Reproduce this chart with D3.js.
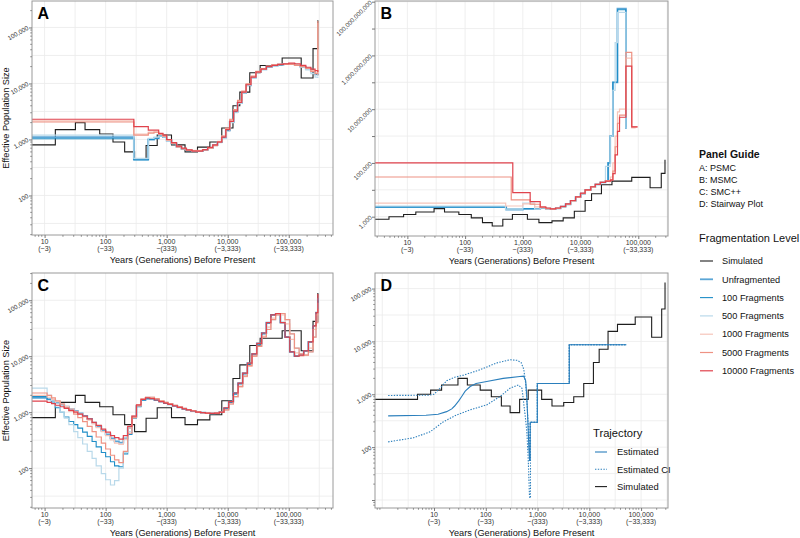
<!DOCTYPE html>
<html>
<head>
<meta charset="utf-8">
<script src="https://cdn.jsdelivr.net/npm/d3@7"></script>
<style>
body { margin: 0; background: #fff; }
svg { font-family: "Liberation Sans", Arial, Helvetica, sans-serif; }
</style>
</head>
<body>
<svg id="chart" width="800" height="538"></svg>
<script>
"use strict";

// ---- tick labels ----
var xTickValues = [10, 100, 1000, 10000, 100000];
var xTickYears = ["10", "100", "1,000", "10,000", "100,000"];
var xTickGens = ["(~3)", "(~33)", "~(333)", "(~3,333)", "(~33,333)"];

var seriesNames = ["Simulated", "Unfragmented", "100 Fragments", "500 Fragments",
                   "1000 Fragments", "5000 Fragments", "10000 Fragments"];
var panelGuide = ["A: PSMC", "B: MSMC", "C: SMC++", "D: Stairway Plot"];
var trajectoryNames = ["Estimated", "Estimated CI", "Simulated"];

// ---- simulated history, [years, Ne] steps ----
var simAC = [[6, 800], [15, 1500], [32, 2000], [46, 1500], [80, 1250], [132, 900], [205, 600],
    [298, 450], [460, 780], [700, 1200], [1200, 800], [2000, 600], [3200, 730], [5100, 900],
    [8000, 1600], [12200, 4000], [15800, 7000], [23000, 15500], [34000, 21000], [78000, 28500],
    [160000, 12500], [250000, 42000], [300000, 42000], [300000, 135000]];
var simBD = [[0.72, 800], [4.8, 1000], [8.6, 1200], [14, 1500], [29, 2000], [44, 1500], [78, 1200],
    [128, 900], [200, 600], [295, 450], [450, 800], [660, 1200], [1200, 800], [1900, 600],
    [3200, 700], [5000, 900], [7800, 1600], [12000, 4000], [15500, 7100], [23000, 15500],
    [35000, 21000], [77000, 29000], [160000, 12000], [250000, 41000], [290000, 41000], [290000, 130000]];

// ---- A: PSMC, shared interval starts ----
var yearsA = [6, 290, 420, 500, 620, 740, 870, 1000, 1200, 1450,
    1750, 2100, 2600, 3200, 3900, 4700, 5700, 6800, 8000, 9300,
    10800, 12500, 14500, 17000, 20000, 24000, 29000, 35000, 43000, 53000,
    66000, 82000, 100000, 125000, 155000, 190000, 230000, 270000, 300000, 300000];
var psmcUnfrag = [1100, 440, 440, 1000, 1050, 1150, 1100, 960, 850, 740,
    680, 640, 620, 620, 650, 700, 790, 900, 1080, 1450,
    2050, 3100, 4500, 6800, 9300, 12800, 15900, 17900, 19900, 20900,
    21700, 22200, 22300, 21500, 20000, 18500, 16500, 14500, 14000, 14000];
var psmc100 = [1030, 430, 430, 1000, 1050, 1150, 1100, 960, 850, 740,
    680, 640, 620, 620, 650, 700, 790, 900, 1080, 1450,
    2050, 3100, 4500, 6800, 9300, 12800, 15900, 17900, 19900, 20900,
    21700, 22200, 22300, 21500, 20000, 18500, 16500, 14500, 14000, 14000];
var psmc500 = [1200, 460, 460, 1050, 1100, 1150, 1100, 950, 840, 740,
    680, 640, 620, 620, 650, 700, 780, 880, 1050, 1400,
    2000, 3000, 4400, 6700, 9200, 12600, 15800, 17800, 19800, 20800,
    21500, 22000, 22000, 21000, 19500, 17500, 15000, 13000, 12500, 12500];
var psmc1000 = [2150, 1250, 1250, 1350, 1350, 1250, 1150, 960, 850, 740,
    690, 650, 640, 640, 660, 710, 790, 930, 1150, 1550,
    2200, 3300, 4800, 7100, 9600, 13200, 16200, 18200, 20200, 21200,
    22000, 22300, 22300, 21500, 20500, 19000, 17000, 15500, 14000, 120000];
var psmc5000 = [2050, 1200, 1200, 1300, 1350, 1250, 1150, 980, 860, 740,
    680, 640, 630, 630, 650, 700, 780, 920, 1150, 1600,
    2300, 3400, 5000, 7300, 9800, 13500, 16500, 18500, 20500, 21500,
    22000, 22000, 22000, 21000, 20000, 18500, 16500, 15000, 15000, 130000];
var psmc10000 = [2300, 1700, 1700, 1470, 1470, 1290, 1200, 1000, 880, 760,
    700, 650, 620, 620, 660, 720, 800, 900, 1100, 1500,
    2100, 3200, 4600, 7000, 9500, 13000, 16000, 18000, 20000, 21000,
    22000, 22500, 23000, 22500, 21000, 19500, 18000, 17000, 16000, 16000];

// ---- B: MSMC, [years, Ne] steps ----
var msmcUnfrag = [[2.75, 2250], [515, 1850], [1000, 1950], [1600, 1950], [2000, 2100], [2500, 2000],
    [3000, 1950], [3700, 2050], [4500, 2350], [5500, 2900], [6700, 3900], [8200, 5300], [10000, 7200],
    [12000, 9700], [15000, 12700], [18000, 15800], [22000, 18800], [27000, 21000], [30000, 100000],
    [32600, 1000000], [36300, 100000000], [43600, 55000000000], [61000, 2000000], [63000, 2000000]];
var msmc100 = [[2.75, 2300], [515, 1900], [1000, 2000], [1600, 1950], [2000, 2100], [2500, 2000],
    [3000, 1950], [3700, 2050], [4500, 2350], [5500, 2900], [6700, 3900], [8200, 5300], [10000, 7200],
    [12000, 9700], [15000, 12700], [18000, 15800], [22000, 18800], [27000, 21000], [30000, 100000],
    [32600, 1000000], [36300, 100000000], [43600, 50000000000], [61000, 2000000], [63000, 2000000]];
var msmc500 = [[2.75, 2500], [500, 1900], [1000, 3200], [1600, 1900], [2000, 2100], [2500, 2000],
    [3000, 1950], [3700, 2050], [4500, 2350], [5500, 2900], [6700, 3800], [8200, 5200], [10000, 7000],
    [12000, 9500], [15000, 12500], [18000, 15500], [22000, 19000], [27000, 75000], [32600, 1000000],
    [36300, 50000000], [39700, 3000000000], [43600, 40000000000], [61000, 2000000], [63000, 2000000]];
var msmc1000 = [[2.75, 3200], [505, 2500], [1000, 3000], [1600, 2300], [2000, 2150], [2500, 2000],
    [3000, 1950], [3700, 2050], [4500, 2350], [5500, 2900], [6700, 3900], [8200, 5300], [10000, 7200],
    [12000, 9700], [15000, 12700], [18000, 15800], [22000, 18800], [27000, 22000], [33000, 30000],
    [36300, 100000], [39700, 1000000], [43600, 8000000], [47300, 10000000], [61000, 800000000],
    [77000, 2000000], [90000, 2000000]];
var msmc5000 = [[2.75, 30000], [630, 4200], [1340, 2900], [2000, 2200], [2500, 2000], [3000, 1950],
    [3700, 2050], [4500, 2350], [5500, 2900], [6700, 3900], [8200, 5400], [10000, 7300], [12000, 9800],
    [15000, 12800], [18000, 15800], [22000, 18800], [27000, 21000], [33000, 24000], [36300, 50000],
    [39700, 400000], [43600, 3000000], [47300, 6000000], [61000, 1300000000], [77000, 2200000],
    [97000, 2200000]];
var msmc10000 = [[2.75, 100000], [670, 7900], [1340, 3650], [2000, 2300], [2500, 2100], [3000, 1950],
    [3700, 2100], [4500, 2400], [5500, 3000], [6700, 4000], [8200, 5500], [10000, 7500], [12000, 10000],
    [15000, 13000], [18000, 16000], [22000, 19000], [27000, 21000], [33000, 23000], [36300, 40000],
    [39700, 200000], [43600, 1500000], [47300, 5000000], [61000, 400000000], [77000, 2200000],
    [97000, 2200000]];

// ---- C: SMC++, shared interval starts ----
var yearsC = [6, 11, 13, 15, 18, 21, 25, 30, 35, 42,
    50, 60, 70, 85, 100, 120, 140, 165, 195, 230,
    270, 320, 380, 450, 530, 630, 750, 900, 1050, 1250,
    1500, 1800, 2100, 2500, 3000, 3600, 4300, 5100, 6100, 7300,
    8700, 10400, 12400, 14800, 17600, 21000, 25000, 30000, 36000, 43000,
    51000, 61000, 73000, 87000, 104000, 124000, 148000, 176000, 210000, 250000,
    280000, 300000];
var smcUnfrag = [1800, 1700, 1600, 1480, 1370, 1260, 1150, 1050, 950, 860,
    760, 650, 560, 470, 400, 340, 300, 285, 340, 520,
    830, 1300, 1650, 1750, 1750, 1650, 1550, 1450, 1380, 1300,
    1220, 1150, 1100, 1050, 1000, 980, 960, 950, 960, 1000,
    1180, 1550, 2200, 3300, 5000, 7500, 11000, 17000, 26000, 40000,
    55000, 57000, 40000, 22000, 12000, 10000, 10500, 12500, 18000, 35000,
    60000, 110000];
var smc100 = [1900, 1700, 1450, 1200, 1000, 820, 680, 600, 520, 440,
    370, 300, 240, 190, 160, 130, 110, 106, 180, 400,
    780, 1250, 1650, 1750, 1750, 1650, 1550, 1450, 1380, 1300,
    1220, 1150, 1100, 1050, 1000, 980, 960, 950, 960, 1000,
    1150, 1500, 2100, 3200, 4800, 7200, 10500, 16000, 25000, 39000,
    55000, 57000, 40000, 22000, 12000, 10000, 10500, 12500, 18000, 35000,
    60000, 100000];
var smc500 = [2700, 2000, 1600, 1300, 1000, 780, 600, 450, 350, 270,
    200, 150, 110, 80, 62, 50, 60, 100, 190, 450,
    800, 1300, 1700, 1850, 1850, 1750, 1600, 1500, 1420, 1330,
    1250, 1170, 1110, 1060, 1010, 980, 960, 950, 960, 990,
    1100, 1400, 1900, 2900, 4400, 6800, 10000, 15000, 22000, 30000,
    45000, 55000, 58000, 45000, 25000, 14000, 11000, 10500, 12000, 22000,
    40000, 70000];
var smc1000 = [2000, 1850, 1700, 1550, 1400, 1270, 1150, 1030, 920, 820,
    720, 620, 530, 450, 380, 320, 280, 265, 330, 520,
    850, 1350, 1750, 1850, 1850, 1750, 1600, 1500, 1420, 1330,
    1250, 1170, 1110, 1060, 1010, 980, 960, 950, 960, 990,
    1100, 1400, 1900, 2800, 4300, 6600, 10000, 15000, 23000, 33000,
    48000, 57000, 55000, 38000, 20000, 11500, 10000, 10500, 14000, 30000,
    55000, 90000];
var smc5000 = [2200, 2000, 1800, 1600, 1400, 1200, 1050, 920, 800, 680,
    560, 450, 360, 280, 220, 170, 140, 125, 200, 420,
    800, 1300, 1700, 1850, 1850, 1750, 1600, 1500, 1420, 1330,
    1250, 1170, 1110, 1060, 1010, 980, 960, 950, 960, 990,
    1100, 1400, 1900, 2900, 4400, 6800, 10000, 15000, 22000, 30000,
    45000, 55000, 58000, 45000, 25000, 14000, 11000, 10500, 12000, 22000,
    40000, 70000];
var smc10000 = [1570, 1500, 1420, 1330, 1250, 1170, 1080, 1000, 920, 850,
    760, 660, 580, 500, 440, 380, 350, 330, 380, 560,
    850, 1350, 1700, 1800, 1750, 1650, 1550, 1450, 1380, 1300,
    1220, 1150, 1100, 1050, 1000, 980, 960, 950, 960, 1000,
    1200, 1550, 2200, 3300, 5000, 7500, 11000, 17000, 26000, 40000,
    55000, 58000, 40000, 22000, 12000, 10000, 10500, 12500, 18000, 35000,
    60000, 130000];

// ---- D: Stairway plot, [years, Ne] points ----
var stairEst = [[1.3, 390], [7, 400], [12, 420], [17.5, 470], [22, 530], [25, 600], [30, 750],
    [34, 900], [40, 1150], [50, 1400], [65, 1600], [104, 1750], [217, 2000], [455, 2170],
    [540, 2200], [590, 1800], [620, 900], [650, 300], [680, 100], [700, 56], [720, 56],
    [720, 295], [990, 295], [990, 1600], [4100, 1600], [4100, 8650], [52000, 8650]];
var stairUpper = [[1.3, 950], [8, 960], [10, 1000], [13, 1300], [17.5, 1800], [25, 2100],
    [37, 2300], [77, 2900], [160, 3900], [293, 4500], [400, 4400], [480, 4000], [540, 3000],
    [590, 1600], [630, 600], [680, 150], [710, 60], [720, 295], [990, 295], [990, 1600],
    [4100, 1600], [4100, 8650], [52000, 8650]];
var stairLower = [[1.3, 126], [4, 150], [8.4, 195], [15, 300], [27, 405], [49, 505], [104, 630],
    [187, 900], [293, 1300], [425, 1500], [500, 1300], [570, 435], [620, 200], [660, 60],
    [700, 11], [730, 11], [730, 295], [990, 295], [990, 1600], [4100, 1600], [4100, 8650],
    [52000, 8650]];

// ---- styles ----
var seriesStyle = {
    "Simulated":       {color: "#1e1e1e", width: 1.1},
    "Unfragmented":    {color: "#5ba6d6", width: 1.8},
    "100 Fragments":   {color: "#1f8ec8", width: 1.1},
    "500 Fragments":   {color: "#b9d9ea", width: 1.2},
    "1000 Fragments":  {color: "#f6c5ba", width: 1.2},
    "5000 Fragments":  {color: "#ee9283", width: 1.2},
    "10000 Fragments": {color: "#e0424c", width: 1.2}
};
var stairColor = "#2b7fbc";

function grid(years, ne) { return d3.zip(years, ne); }

var panels = [
    {id: "A", left: 32, right: 333, top: 1, bottom: 235, xDomain: [6.22, 531000], yDomain: [19.7, 297000],
     yLabels: [100, 1000, 10000, 100000], yMajor: [100, 1000, 10000, 100000], yGridStep: 0.5, angle: -30, yTitle: true,
     lines: [["Simulated", simAC, "step"], ["Unfragmented", grid(yearsA, psmcUnfrag), "step"],
             ["100 Fragments", grid(yearsA, psmc100), "step"], ["500 Fragments", grid(yearsA, psmc500), "step"],
             ["1000 Fragments", grid(yearsA, psmc1000), "step"], ["5000 Fragments", grid(yearsA, psmc5000), "step"],
             ["10000 Fragments", grid(yearsA, psmc10000), "step"]]},
    {id: "B", left: 375, right: 668, top: 1, bottom: 236, xDomain: [2.75, 327000], yDomain: [191, 1.06e11],
     yLabels: [1e3, 1e5, 1e7, 1e9, 1e11], yMajor: [1e3, 1e4, 1e5, 1e6, 1e7, 1e8, 1e9, 1e10, 1e11], yGridStep: 1, angle: -45,
     lines: [["Simulated", simBD, "step"], ["Unfragmented", msmcUnfrag, "step"], ["100 Fragments", msmc100, "step"],
             ["500 Fragments", msmc500, "step"], ["1000 Fragments", msmc1000, "step"],
             ["5000 Fragments", msmc5000, "step"], ["10000 Fragments", msmc10000, "step"]]},
    {id: "C", left: 32, right: 333, top: 273, bottom: 508, xDomain: [6.22, 531000], yDomain: [19.4, 307000],
     yLabels: [100, 1000, 10000, 100000], yMajor: [100, 1000, 10000, 100000], yGridStep: 0.5, angle: -30, yTitle: true,
     lines: [["Simulated", simAC, "step"], ["Unfragmented", grid(yearsC, smcUnfrag), "step"],
             ["100 Fragments", grid(yearsC, smc100), "step"], ["500 Fragments", grid(yearsC, smc500), "step"],
             ["1000 Fragments", grid(yearsC, smc1000), "step"], ["5000 Fragments", grid(yearsC, smc5000), "step"],
             ["10000 Fragments", grid(yearsC, smc10000), "step"]]},
    {id: "D", left: 375, right: 668, top: 273, bottom: 508, xDomain: [0.724, 331000], yDomain: [7.06, 197000],
     yLabels: [100, 1000, 10000, 100000], yMajor: [10, 100, 1000, 10000, 100000], yGridStep: 0.5, angle: -30,
     lines: [["Simulated", simBD, "step"]]}
];

var svg = d3.select("#chart");
var fmt = d3.format(",");

function gridValues(domain, step) {
    var lo = Math.floor(Math.log10(domain[0])), hi = Math.ceil(Math.log10(domain[1])), out = [], k, v;
    for (k = lo; k <= hi; k += step) {
        v = Math.pow(10, k);
        if (v > domain[0] && v < domain[1]) { out.push(v); }
    }
    return out;
}

function minorValues(domain) {
    var lo = Math.floor(Math.log10(domain[0])), hi = Math.ceil(Math.log10(domain[1])), out = [], k, m, v;
    for (k = lo; k <= hi; k++) {
        for (m = 2; m <= 9; m++) {
            v = m * Math.pow(10, k);
            if (v >= domain[0] && v <= domain[1]) { out.push(v); }
        }
    }
    return out;
}

function drawPanel(p) {
    var x = d3.scaleLog().domain(p.xDomain).range([p.left, p.right]),
        y = d3.scaleLog().domain(p.yDomain).range([p.bottom, p.top]),
        g = svg.append("g").attr("class", "panel" + p.id),
        clipId = "clip" + p.id;

    g.append("clipPath").attr("id", clipId).append("rect")
        .attr("x", p.left).attr("y", p.top)
        .attr("width", p.right - p.left).attr("height", p.bottom - p.top);

    // grid lines
    g.selectAll("line.vgrid").data(gridValues(p.xDomain, 0.5)).enter().append("line")
        .attr("class", "vgrid")
        .attr("x1", function (d) { return x(d); }).attr("x2", function (d) { return x(d); })
        .attr("y1", p.top).attr("y2", p.bottom)
        .attr("stroke", "#ebebeb").attr("stroke-width", 0.8);
    g.selectAll("line.hgrid").data(gridValues(p.yDomain, p.yGridStep)).enter().append("line")
        .attr("class", "hgrid")
        .attr("y1", function (d) { return y(d); }).attr("y2", function (d) { return y(d); })
        .attr("x1", p.left).attr("x2", p.right)
        .attr("stroke", "#ebebeb").attr("stroke-width", 0.8);

    // series
    var lineGen = d3.line()
        .x(function (d) { return x(d[0]); })
        .y(function (d) { return y(d[1]); });
    var lines = g.append("g").attr("clip-path", "url(#" + clipId + ")");
    p.lines.forEach(function (s) {
        var st = seriesStyle[s[0]];
        lines.append("path")
            .attr("d", lineGen.curve(s[2] === "step" ? d3.curveStepAfter : d3.curveLinear)(s[1]))
            .attr("fill", "none")
            .attr("stroke", st.color)
            .attr("stroke-width", st.width)
            .attr("stroke-linejoin", "miter");
    });
    if (p.id === "D") {
        [[stairEst, null], [stairUpper, "1.4,1.4"], [stairLower, "1.4,1.4"]].forEach(function (s) {
            lines.append("path")
                .attr("d", lineGen.curve(d3.curveLinear)(s[0]))
                .attr("fill", "none")
                .attr("stroke", stairColor)
                .attr("stroke-width", 1.1)
                .attr("stroke-dasharray", s[1]);
        });
    }

    // border
    g.append("rect")
        .attr("x", p.left).attr("y", p.top)
        .attr("width", p.right - p.left).attr("height", p.bottom - p.top)
        .attr("fill", "none").attr("stroke", "#9a9a9a").attr("stroke-width", 1);

    // x axis
    var xAxis = g.append("g").attr("transform", "translate(0," + p.bottom + ")")
        .call(d3.axisBottom(x).tickValues(xTickValues).tickSize(3).tickFormat(""));
    xAxis.select(".domain").remove();
    xAxis.selectAll(".tick line").attr("stroke", "#777");
    g.selectAll("line.xminor").data(minorValues(p.xDomain)).enter().append("line")
        .attr("class", "xminor")
        .attr("x1", function (d) { return x(d); }).attr("x2", function (d) { return x(d); })
        .attr("y1", p.bottom).attr("y2", p.bottom + 1.8)
        .attr("stroke", "#777").attr("stroke-width", 0.8);
    var xl = g.selectAll("text.xlab").data(xTickValues).enter().append("text")
        .attr("class", "xlab")
        .attr("x", function (d) { return x(d); })
        .attr("text-anchor", "middle")
        .attr("font-size", 7).attr("fill", "#333");
    xl.append("tspan").attr("x", function (d) { return x(d); }).attr("y", p.bottom + 9)
        .text(function (d, i) { return xTickYears[i]; });
    xl.append("tspan").attr("x", function (d) { return x(d); }).attr("y", p.bottom + 16)
        .text(function (d, i) { return xTickGens[i]; });
    g.append("text")
        .attr("x", (p.left + p.right) / 2).attr("y", p.bottom + 28)
        .attr("text-anchor", "middle").attr("font-size", 9.2).attr("fill", "#111")
        .text("Years (Generations) Before Present");

    // y axis
    var yAxis = g.append("g").attr("transform", "translate(" + p.left + ",0)")
        .call(d3.axisLeft(y).tickValues(p.yMajor).tickSize(3).tickFormat(""));
    yAxis.select(".domain").remove();
    yAxis.selectAll(".tick line").attr("stroke", "#777");
    if (p.yGridStep < 1) {
        g.selectAll("line.yminor").data(minorValues(p.yDomain)).enter().append("line")
            .attr("class", "yminor")
            .attr("y1", function (d) { return y(d); }).attr("y2", function (d) { return y(d); })
            .attr("x1", p.left - 1.8).attr("x2", p.left)
            .attr("stroke", "#777").attr("stroke-width", 0.8);
    }
    g.selectAll("text.ylab").data(p.yLabels).enter().append("text")
        .attr("class", "ylab")
        .attr("x", p.left - 4).attr("y", function (d) { return y(d) + 2; })
        .attr("text-anchor", "end").attr("font-size", 6.3).attr("fill", "#333")
        .attr("transform", function (d) { return "rotate(" + p.angle + "," + (p.left - 4) + "," + y(d) + ")"; })
        .text(function (d) { return fmt(d); });
    if (p.yTitle) {
        g.append("text")
            .attr("transform", "translate(9," + ((p.top + p.bottom) / 2) + ") rotate(-90)")
            .attr("text-anchor", "middle").attr("font-size", 9.2).attr("fill", "#111")
            .text("Effective Population Size");
    }

    // panel letter
    g.append("text")
        .attr("x", p.left + 5.5).attr("y", p.top + 17.5)
        .attr("font-size", 16).attr("font-weight", "bold").attr("fill", "#000")
        .text(p.id);
}

panels.forEach(drawPanel);

// ---- D trajectory legend ----
var traj = svg.append("g");
traj.append("text").attr("x", 593).attr("y", 437).attr("font-size", 11.2).attr("fill", "#111").text("Trajectory");
traj.selectAll("g.key").data(trajectoryNames).enter().append("g").attr("class", "key")
    .each(function (d, i) {
        var k = d3.select(this), cy = 452 + i * 17.3;
        k.append("line").attr("x1", 595).attr("x2", 607).attr("y1", cy).attr("y2", cy)
            .attr("stroke", i === 2 ? seriesStyle.Simulated.color : stairColor)
            .attr("stroke-width", 1.1)
            .attr("stroke-dasharray", i === 1 ? "1.4,1.4" : null);
        k.append("text").attr("x", 617).attr("y", cy + 3.3).attr("font-size", 9.4).attr("fill", "#111").text(d);
    });

// ---- right-hand legends ----
var leg = svg.append("g");
leg.append("text").attr("x", 699).attr("y", 158).attr("font-size", 10.5).attr("font-weight", "bold")
    .attr("fill", "#111").text("Panel Guide");
leg.selectAll("text.guide").data(panelGuide).enter().append("text").attr("class", "guide")
    .attr("x", 699).attr("y", function (d, i) { return 171 + i * 12; })
    .attr("font-size", 9).attr("fill", "#111").text(function (d) { return d; });
leg.append("text").attr("x", 699).attr("y", 242).attr("font-size", 11).attr("fill", "#111")
    .text("Fragmentation Level");
leg.selectAll("g.frag").data(seriesNames).enter().append("g").attr("class", "frag")
    .each(function (d, i) {
        var k = d3.select(this), cy = 261 + i * 18.3, st = seriesStyle[d];
        k.append("line").attr("x1", 700).attr("x2", 713).attr("y1", cy).attr("y2", cy)
            .attr("stroke", st.color).attr("stroke-width", st.width);
        k.append("text").attr("x", 722).attr("y", cy + 3.2).attr("font-size", 9.2).attr("fill", "#111").text(d);
    });
</script>
</body>
</html>
